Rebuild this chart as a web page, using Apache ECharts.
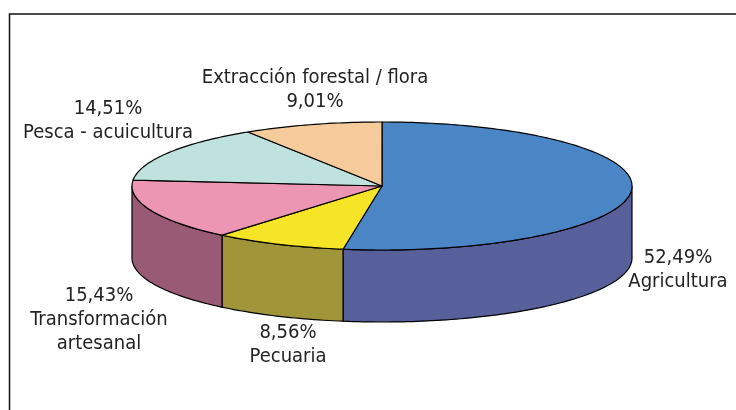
<!DOCTYPE html>
<html>
<head>
<meta charset="utf-8">
<script src="https://cdn.jsdelivr.net/npm/echarts@6/dist/echarts.min.js"></script>
<style>
  html, body { margin: 0; padding: 0; background: #fff; }
  #chart { width: 736px; height: 410px; }
</style>
</head>
<body>
<div id="chart"></div>
<script>
// data
const categories = ['Agricultura', 'Pecuaria', 'Transformación\nartesanal', 'Pesca - acuicultura', 'Extracción forestal / flora']
const values = [52.49, 8.56, 15.43, 14.51, 9.01]
const pctFirst = [true, true, true, true, false]

// styling
const topColors = ['#4a86c6', '#f5e526', '#ec96b4', '#c0e2df', '#f6cb9b']
const sideColors = ['#57609a', '#a09539', '#985a74', '#8fb0ad', '#c09a70']
const labelPos = [[678, 270], [288, 345], [99, 320], [108, 121], [315, 90]]
const DEPTH = 1.125 // in y units (1 unit = radius on y)
const FONT = '"Liberation Sans Narrow", "DejaVu Sans Condensed", Roboto, sans-serif'

const total = values.reduce((a, b) => a + b, 0)
let acc = 0
const slices = values.map((v, i) => {
  const start = acc / total
  acc += v
  return [start, acc / total, i]
})

const fmt = v => v.toFixed(2).replace('.', ',') + '%'

const arc = (api, a0, a1, drop) => {
  const pts = []
  const n = Math.max(2, Math.ceil(Math.abs(a1 - a0) / 0.02))
  for (let k = 0; k <= n; k++) {
    const t = a0 + (a1 - a0) * k / n
    pts.push(api.coord([Math.sin(t), Math.cos(t) - drop]))
  }
  return pts
}

const renderSide = (params, api) => {
  const a0 = api.value(0) * Math.PI * 2
  const a1 = api.value(1) * Math.PI * 2
  const s = Math.max(a0, Math.PI / 2)
  const e = Math.min(a1, Math.PI * 1.5)
  if (s >= e) return
  const pts = arc(api, s, e, 0).concat(arc(api, e, s, DEPTH))
  return {
    type: 'polygon',
    shape: { points: pts },
    style: { fill: sideColors[api.value(2)], stroke: '#000', lineWidth: 1.2 }
  }
}

const renderTop = (params, api) => {
  const a0 = api.value(0) * Math.PI * 2
  const a1 = api.value(1) * Math.PI * 2
  const pts = [api.coord([0, 0])].concat(arc(api, a0, a1, 0))
  return {
    type: 'polygon',
    shape: { points: pts },
    style: { fill: topColors[api.value(2)], stroke: '#000', lineWidth: 1.2, lineJoin: 'round' }
  }
}

const labels = categories.map((name, i) => {
  const lines = pctFirst[i] ? [fmt(values[i]), name] : [name, fmt(values[i])]
  return {
    type: 'text',
    x: labelPos[i][0],
    y: labelPos[i][1],
    silent: true,
    style: {
      text: lines.join('\n'),
      fill: '#222',
      fontSize: 20,
      fontFamily: FONT,
      lineHeight: 24,
      align: 'center',
      verticalAlign: 'middle'
    }
  }
})

const chart = echarts.init(document.getElementById('chart'))
chart.setOption({
  animation: false,
  grid: { left: 132, width: 500, top: 122, height: 200 },
  xAxis: { type: 'value', min: -1, max: 1, show: false },
  yAxis: { type: 'value', min: -1 - DEPTH, max: 1, show: false },
  graphic: [
    {
      type: 'rect',
      shape: { x: 9.5, y: 14, width: 800, height: 500 },
      style: { fill: 'none', stroke: '#111', lineWidth: 1.5 },
      silent: true
    }
  ].concat(labels),
  series: [
    { type: 'custom', renderItem: renderSide, data: slices, clip: false, silent: true },
    { type: 'custom', renderItem: renderTop, data: slices, clip: false, silent: true }
  ]
})
</script>
</body>
</html>
